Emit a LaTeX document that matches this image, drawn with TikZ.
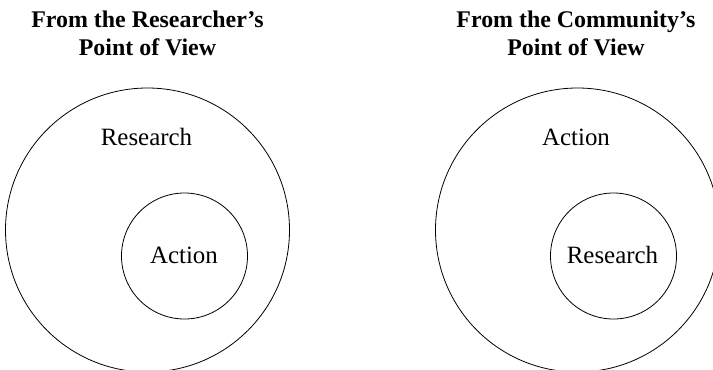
\documentclass[tikz,border=0pt]{standalone}
\usepackage{fontspec}
\setmainfont{Liberation Serif}
\begin{document}
\begin{tikzpicture}[x=1bp,y=-1bp,
  ring/.style={draw,circle,line width=0.8bp,inner sep=0pt},
  label/.style={font=\fontsize{25}{28}\selectfont,anchor=base,inner sep=0pt},
  heading/.style={font=\bfseries\fontsize{24}{28}\selectfont,anchor=base,inner sep=0pt}]
  \useasboundingbox (0,0) rectangle (713,369);
  \clip (0,0) rectangle (713,369);
  % left panel: research encloses action
  \node[heading] (lt1) at (147.5,27) {From the Researcher's};
  \node[heading] (lt2) at (147.5,55) {Point of View};
  \node[ring,minimum size=284bp] (lo) at (147.5,230) {};
  \node[ring,minimum size=126bp] (li) at (184.5,256) {};
  \node[label] (lr) at (146.5,145) {Research};
  \node[label] (la) at (184,263) {Action};
  % right panel: action encloses research
  \node[heading] (rt1) at (576,27) {From the Community's};
  \node[heading] (rt2) at (576,55) {Point of View};
  \node[ring,minimum size=284bp] (ro) at (577.5,230) {};
  \node[ring,minimum size=126bp] (ri) at (613.5,256) {};
  \node[label] (ra) at (576,145) {Action};
  \node[label] (rr) at (612.5,263) {Research};
\end{tikzpicture}
\end{document}
